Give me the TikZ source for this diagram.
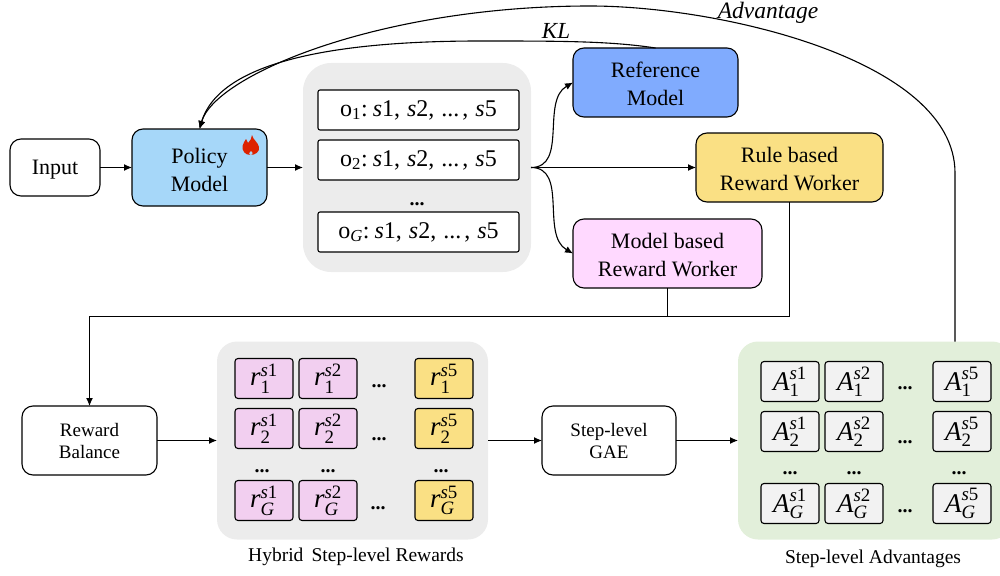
\documentclass[tikz,border=0pt]{standalone}
\usepackage{amsmath}
\usepackage{fontspec}
\setmainfont{Liberation Serif}
\usetikzlibrary{arrows.meta, positioning, calc}

\definecolor{polcolor}{HTML}{A6D7F9}
\definecolor{refcolor}{HTML}{80ABFE}
\definecolor{rulecolor}{HTML}{FAE084}
\definecolor{mbcolor}{HTML}{FFD9FF}
\definecolor{rcolor}{HTML}{F2CFF0}
\definecolor{acolor}{HTML}{F2F2F2}
\definecolor{panelgrey}{HTML}{ECECEC}
\definecolor{panelgreen}{HTML}{E2EFDA}
\definecolor{flamecolor}{HTML}{DD2200}

\newcommand{\obsline}[1]{o$_{\text{#1}}$:\hspace{5pt}\textit{s}1,\hspace{7pt}\textit{s}2,\hspace{7pt}...\hspace{3pt},\hspace{7pt}\textit{s}5}
\newcommand{\stepsym}[3]{$\textit{#1}_{\text{#2}}^{\textit{s}\text{#3}}$}

\tikzset{
	mainbox/.style={rectangle, draw, line width=1.1pt, rounded corners=11, inner sep=0, outer sep=0, align=center, text depth=0pt, font=\fontsize{22}{28}\selectfont},
	smallbox/.style={mainbox, font=\fontsize{19}{22}\selectfont},
	panelbox/.style={rectangle, rounded corners=#1, inner sep=0, outer sep=0},
	obsbox/.style={rectangle, draw, line width=1.1pt, rounded corners=2, fill=white, minimum width=201, minimum height=40, inner sep=0, outer sep=0, font=\fontsize{24}{28}\selectfont},
	cellbox/.style={rectangle, draw, line width=1.1pt, rounded corners=3, minimum width=58, minimum height=40, inner sep=0, outer sep=0, font=\fontsize{27}{30}\selectfont},
	dotsnode/.style={inner sep=0, outer sep=0, font=\bfseries\fontsize{20}{22}\selectfont},
	captionnode/.style={inner sep=0, outer sep=0, font=\fontsize{19.5}{24}\selectfont},
	arrowline/.style={-{Latex[length=8pt,width=7pt]}, line width=1.1pt}
}

\begin{document}
\begin{tikzpicture}[x=1pt, y=-1pt]
	\useasboundingbox (0,0) rectangle (1000,575);

	\node[mainbox, minimum width=90, minimum height=57] (input) at (55,167.5) {Input};
	\node[mainbox, fill=polcolor, minimum width=135, minimum height=77, right=32pt of input] (polmodel) {\rule{0pt}{20pt}Policy\\Model};
	\node[panelbox=28, fill=panelgrey, minimum width=228, minimum height=209, right=36pt of polmodel] (obspanel) {};

	\node[obsbox] (obstwo) at (418.5,160) {\obsline{2}};
	\node[obsbox, above=10pt of obstwo] (obsone) {\obsline{1}};
	\node[obsbox, below=32pt of obstwo] (obsg) {\obsline{\textit{G}}};
	\node[dotsnode] (obsdots) at (417,204) {...};

	\node[mainbox, fill=refcolor, minimum width=165, minimum height=69] (refmodel) at (655.5,82.5) {\rule{0pt}{18pt}Reference\\Model};
	\node[mainbox, fill=rulecolor, minimum width=187, minimum height=69, right=165pt of obspanel] (ruleworker) {\rule{0pt}{18pt}Rule based\\Reward Worker};
	\node[mainbox, fill=mbcolor, minimum width=189, minimum height=69] (mbworker) at (667.5,253.5) {\rule{0pt}{18pt}Model based\\Reward Worker};

	\node[smallbox, minimum width=135, minimum height=69] (balance) at (89.5,440.5) {Reward\\Balance};
	\node[panelbox=20, fill=panelgrey, minimum width=271, minimum height=198, right=60pt of balance] (hybpanel) {};
	\node[smallbox, minimum width=134, minimum height=69, right=54pt of hybpanel] (gae) {Step-level\\GAE};
	\node[panelbox=20, fill=panelgreen, minimum width=274, minimum height=198, right=62pt of gae] (advpanel) {};

	\node[cellbox, fill=rcolor] (ronea) at (264,378.5) {\stepsym{r}{1}{1}};
	\node[cellbox, fill=rcolor, right=6pt of ronea] (roneb) {\stepsym{r}{1}{2}};
	\node[cellbox, fill=rulecolor, right=58pt of roneb] (ronee) {\stepsym{r}{1}{5}};
	\node[cellbox, fill=rcolor, below=10pt of ronea] (rtwoa) {\stepsym{r}{2}{1}};
	\node[cellbox, fill=rcolor, below=10pt of roneb] (rtwob) {\stepsym{r}{2}{2}};
	\node[cellbox, fill=rulecolor, below=10pt of ronee] (rtwoe) {\stepsym{r}{2}{5}};
	\node[cellbox, fill=rcolor, below=32pt of rtwoa] (rga) {\stepsym{r}{\textit{G}}{1}};
	\node[cellbox, fill=rcolor, below=32pt of rtwob] (rgb) {\stepsym{r}{\textit{G}}{2}};
	\node[cellbox, fill=rulecolor, below=32pt of rtwoe] (rge) {\stepsym{r}{\textit{G}}{5}};

	\node[dotsnode] (rdotsone) at (379,386) {...};
	\node[dotsnode] (rdotstwo) at (379,439) {...};
	\node[dotsnode] (rdotsg) at (378,508) {...};
	\node[dotsnode] (rdotsa) at (262,471) {...};
	\node[dotsnode] (rdotsb) at (328,471) {...};
	\node[dotsnode] (rdotse) at (441,471) {...};

	\node[cellbox, fill=acolor] (aonea) at (790,381.5) {\stepsym{A}{1}{1}};
	\node[cellbox, fill=acolor, right=6pt of aonea] (aoneb) {\stepsym{A}{1}{2}};
	\node[cellbox, fill=acolor, right=50pt of aoneb] (aonee) {\stepsym{A}{1}{5}};
	\node[cellbox, fill=acolor, below=10pt of aonea] (atwoa) {\stepsym{A}{2}{1}};
	\node[cellbox, fill=acolor, below=10pt of aoneb] (atwob) {\stepsym{A}{2}{2}};
	\node[cellbox, fill=acolor, below=10pt of aonee] (atwoe) {\stepsym{A}{2}{5}};
	\node[cellbox, fill=acolor, below=32pt of atwoa] (aga) {\stepsym{A}{\textit{G}}{1}};
	\node[cellbox, fill=acolor, below=32pt of atwob] (agb) {\stepsym{A}{\textit{G}}{2}};
	\node[cellbox, fill=acolor, below=32pt of atwoe] (age) {\stepsym{A}{\textit{G}}{5}};

	\node[dotsnode] (adotsone) at (905,388) {...};
	\node[dotsnode] (adotstwo) at (905,442) {...};
	\node[dotsnode] (adotsg) at (905,511) {...};
	\node[dotsnode] (adotsa) at (790,473) {...};
	\node[dotsnode] (adotsb) at (854,473) {...};
	\node[dotsnode] (adotse) at (959,473) {...};

	\node[captionnode] (hybcaption) at (356,557) {Hybrid\, Step-level Rewards};
	\node[captionnode] (advcaption) at (873,559) {Step-level Advantages};
	\node[inner sep=0, font=\itshape\fontsize{23}{28}\selectfont] (kllabel) at (556,31) {KL};
	\node[inner sep=0, font=\itshape\fontsize{23.5}{28}\selectfont] (advlabel) at (768,13) {Advantage};

	\fill[flamecolor] (252,135) .. controls (253,140) and (258,142) .. (259,147) .. controls (260,152) and (255,155) .. (250.5,155) .. controls (245,155) and (242,151) .. (242.5,146) .. controls (243,143) and (245,141) .. (246,139) .. controls (247,141) and (247.5,142) .. (248,143) .. controls (250,141) and (252,138) .. (252,135) -- cycle;
	\fill[polcolor] (251,151) .. controls (252,152) and (253,153) .. (252.5,154) .. controls (252,155.5) and (249.5,155.5) .. (249.2,154) .. controls (249,153) and (250,152) .. (251,151) -- cycle;

	\draw[arrowline] (input) -- (polmodel);
	\draw[arrowline] (polmodel) -- (obspanel);
	\draw[arrowline] (obspanel.east) -- (ruleworker);
	\draw[arrowline] (obspanel.east) to[out=0, in=210] (refmodel.west);
	\draw[arrowline] (obspanel.east) to[out=0, in=150] (mbworker.west);

	\draw[arrowline] (refmodel.north) .. controls (610,41) and (560,41) .. (480,41) .. controls (340,41) and (220,60) .. (polmodel.north);
	\draw[arrowline] ([xshift=80pt]advpanel.north) -- (955,173) .. controls (955,60) and (720,6) .. (590,6) .. controls (380,6) and (215,75) .. (polmodel.north);

	\draw[line width=1.1pt] (mbworker.south) -- (667.5,316.5);
	\draw[arrowline] (ruleworker.south) |- (89.5,316.5) -- (balance.north);

	\draw[arrowline] (balance) -- (hybpanel);
	\draw[arrowline] (hybpanel) -- (gae);
	\draw[arrowline] (gae) -- (advpanel);
\end{tikzpicture}
\end{document}
